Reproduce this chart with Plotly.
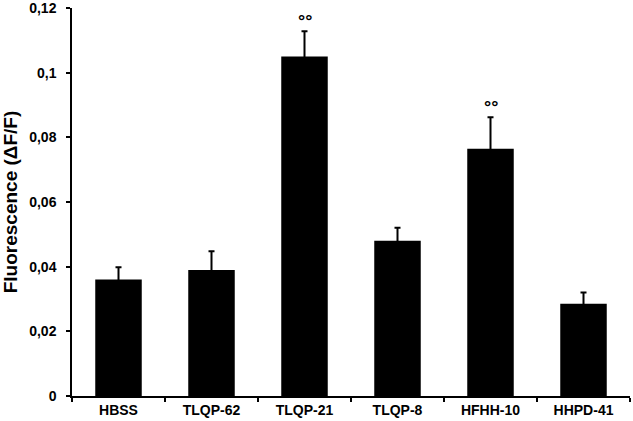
import plotly.graph_objects as go

# values
groups = ["HBSS", "TLQP-62", "TLQP-21", "TLQP-8", "HFHH-10", "HHPD-41"]
means = [0.036, 0.039, 0.1050, 0.048, 0.0765, 0.0285]
sem_up = [0.0038, 0.0058, 0.0078, 0.0040, 0.0097, 0.0035]
marks = ["", "", "°°", "", "°°", ""]

font_family = "Liberation Sans, Arial, sans-serif"

fig = go.Figure()
fig.add_trace(go.Bar(
    x=groups,
    y=means,
    width=0.5,
    marker=dict(color="black", line=dict(width=0)),
    # lower part runs down inside the black bar, so only the upper whisker shows
    error_y=dict(type="data", symmetric=False, array=sem_up,
                 arrayminus=means,
                 color="black", thickness=2, width=3),
    showlegend=False,
))

# significance marks above the error bars
for g, m, e, t in zip(groups, means, sem_up, marks):
    if t:
        fig.add_annotation(x=g, y=m + e, text="<b>" + t + "</b>", showarrow=False,
                           yanchor="bottom", yshift=-2,
                           font=dict(family=font_family, size=18, color="black"))

fig.update_layout(
    width=633, height=421,
    margin=dict(l=72, r=3, t=8, b=25),
    plot_bgcolor="white", paper_bgcolor="white",
    separators=",.",
    font=dict(family=font_family, color="black"),
)
fig.update_xaxes(
    automargin=False,
    showline=True, linecolor="black", linewidth=1.5,
    ticks="outside", tickson="boundaries", ticklen=4, tickcolor="black", tickwidth=1.5,
    tickfont=dict(family=font_family, size=14, color="black", weight="bold"),
)
fig.update_yaxes(
    automargin=False,
    range=[0, 0.12], tickvals=[0, 0.02, 0.04, 0.06, 0.08, 0.1, 0.12],
    showline=True, linecolor="black", linewidth=1.5, showgrid=False, zeroline=False,
    ticks="outside", ticklen=4, tickcolor="black", tickwidth=1.5,
    ticklabelstandoff=7, ticklabeloverflow="allow",
    tickfont=dict(family=font_family, size=14, color="black", weight="bold"),
    title=dict(text="Fluorescence (ΔF/F)", standoff=8,
               font=dict(family=font_family, size=19, color="black", weight="bold")),
)

# drop the default page margin so the figure fills the window
fig.write_html("out.html", config={"displayModeBar": False},
               post_script="document.body.style.margin='0';")
